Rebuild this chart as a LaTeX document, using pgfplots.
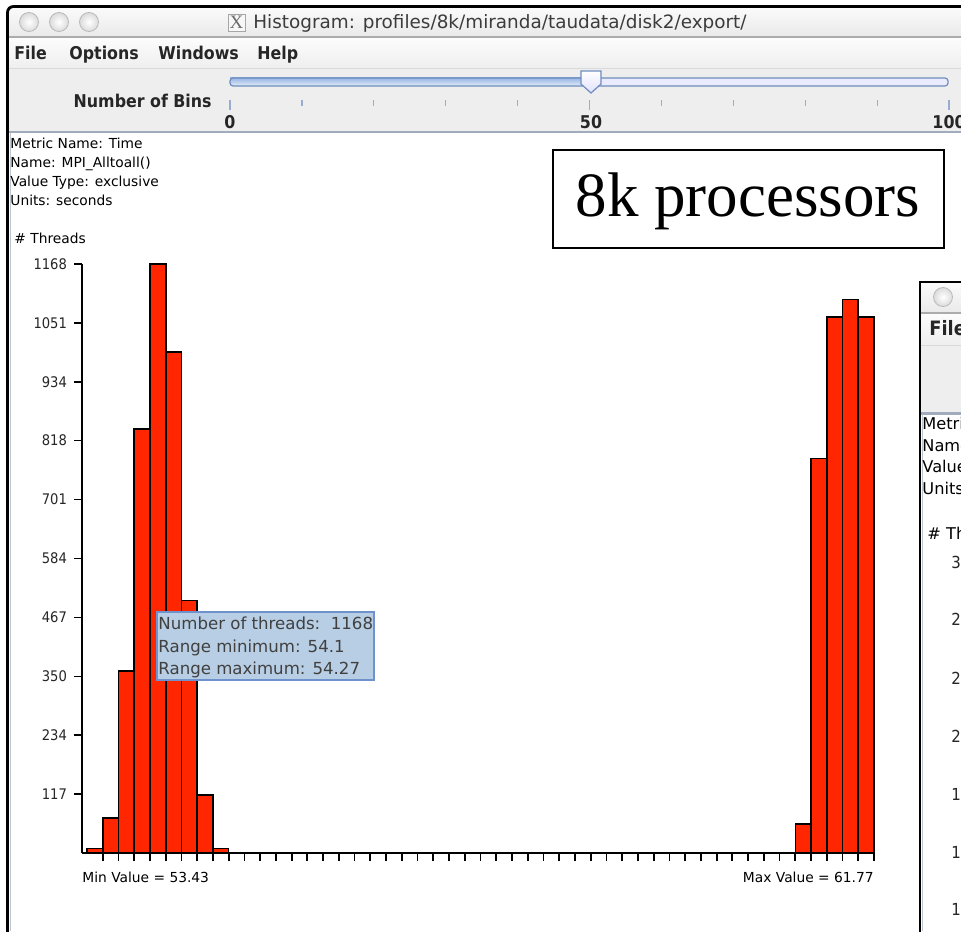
\documentclass[border=0pt]{standalone}
\usepackage{pgfplots}
\pgfplotsset{compat=1.18}
\usepackage{fontspec}
\setmainfont{DejaVu Sans}
\newfontfamily\condf{DejaVu Sans Condensed}
\newfontfamily\serif{Liberation Serif}
\definecolor{barred}{RGB}{255,38,0}
\definecolor{tipfill}{RGB}{184,206,228}
\definecolor{tipdraw}{RGB}{112,146,204}
\definecolor{panel}{RGB}{238,238,238}
\definecolor{sepblue}{RGB}{160,172,188}
\definecolor{ticklite}{RGB}{150,172,208}
\definecolor{trackline}{RGB}{110,140,190}
\definecolor{trackblue}{RGB}{150,182,228}
\definecolor{titletext}{RGB}{60,60,60}
\begin{document}
\begin{tikzpicture}
\useasboundingbox (0pt,0pt) rectangle (480.5pt,-465.5pt);
\clip (0pt,0pt) rectangle (480.5pt,-465.5pt);
\begin{scope}[x=0.5pt,y=-0.5pt]
\fill[white] (0,0) rectangle (961,931);
% ---- main window chrome
\shade[top color=gray!3, bottom color=gray!17] (7,6) rectangle (961,37);
\shade[top color=gray!2, bottom color=gray!13] (7,37) rectangle (961,68);
\fill[panel] (7,68) rectangle (961,131);
\draw[gray!65, line width=0.6pt] (7,37) -- (961,37);
\draw[gray!30, line width=0.5pt] (7,68.5) -- (961,68.5);
\draw[sepblue, line width=1.2pt] (7,132) -- (961,132);
\draw[sepblue!70, line width=0.6pt] (10.5,133) -- (10.5,931);
\draw[black, line width=1.4pt, rounded corners=3pt] (7.5,935) -- (7.5,6.5) -- (965,6.5);
% traffic lights
\foreach \cx in {29,59,89} {
  \shade[inner color=white, outer color=gray!28] (\cx,22) circle (9.5);
  \draw[gray!55, line width=0.4pt] (\cx,22) circle (9.5);
}
% X icon and title
\draw[gray!70, fill=gray!6, line width=0.4pt] (228,14) rectangle (245,31);
\node[font=\serif\fontsize{9.5}{10}\selectfont, text=gray!85!black, inner sep=0] at (236.5,22.5) {X};
\node[anchor=base west, inner sep=0, font=\fontsize{9.2}{10}\selectfont, text=titletext] at (253,28.5) {Histogram: profiles/8k/miranda/taudata/disk2/export/};
% menu
\begin{scope}[every node/.style={anchor=base west, inner sep=0, font=\condf\bfseries\fontsize{8.8}{10}\selectfont, text=black!85}]
\node at (14,59.3) {File};
\node at (69,59.3) {Options};
\node at (158,59.3) {Windows};
\node at (257,59.3) {Help};
\end{scope}
% slider
\node[anchor=base east, inner sep=0, font=\condf\bfseries\fontsize{8.8}{10}\selectfont, text=black!85] at (212,107) {Number of Bins};
\fill[white!92!blue] (230,78) rectangle (948,86);
\shade[top color=trackblue, bottom color=white!75!trackblue] (230,78) rectangle (591,86);
\draw[trackline, line width=0.6pt, rounded corners=1.5] (230,78) rectangle (948,86);
\shadedraw[top color=white, bottom color=blue!12, draw=trackline, line width=0.6pt] (581,71) -- (601,71) -- (601,84) -- (591,93) -- (581,84) -- cycle;
\foreach \i in {1,2,3,4,6,7,8,9} \draw[ticklite, line width=0.6pt] ({230+\i*71.9},100) -- ({230+\i*71.9},106);
\foreach \i in {0,5,10} \draw[ticklite, line width=0.6pt] ({230+\i*71.9},100) -- ({230+\i*71.9},109.5);
\begin{scope}[every node/.style={anchor=base, inner sep=0, font=\condf\bfseries\fontsize{8.8}{10}\selectfont, text=black!85}]
\node at (230,128) {0};
\node at (591,128) {50};
\node at (949,128) {100};
\end{scope}
% info text
\begin{scope}[every node/.style={anchor=base west, inner sep=0, font=\fontsize{6.9}{8}\selectfont}]
\node at (10,148) {Metric Name: Time};
\node at (10,167) {Name: MPI\_Alltoall()};
\node at (10,186) {Value Type: exclusive};
\node at (10,205) {Units: seconds};
\node at (14,243) {\# Threads};
\end{scope}
\end{scope}
% ---- histogram
\begin{axis}[
  at={(41pt,-426.5pt)}, anchor=south west, scale only axis,
  width=396pt, height=294.5pt,
  xmin=-0.318, xmax=50, ymin=0, ymax=1168,
  axis lines=left, axis line style={-, line width=1pt},
  xtick={1,...,50}, xticklabels={},
  ytick={117,234,350,467,584,701,818,934,1051,1168},
  tick align=outside, major tick length=4pt,
  tick style={black, line width=0.9pt},
  /pgf/number format/1000 sep={},
  /pgf/number format/assume math mode=true,
  yticklabel style={font=\condf\fontsize{7.3}{8}\selectfont, text=black!85},
  clip=false,
]
\addplot[ybar interval, fill=barred, draw=black, line width=0.8pt] coordinates {
  (0,9) (1,69) (2,361) (3,841) (4,1168) (5,993) (6,501) (7,115) (8,9) (9,9)};
\addplot[ybar interval, fill=barred, draw=black, line width=0.8pt] coordinates {
  (45,57) (46,782) (47,1063) (48,1098) (49,1063) (50,1063)};
\node[anchor=base west, inner sep=0, font=\fontsize{6.9}{8}\selectfont, yshift=-14.8pt] at (rel axis cs:0,0) {Min Value = 53.43};
\node[anchor=base east, inner sep=0, font=\fontsize{6.9}{8}\selectfont, yshift=-14.8pt] at (rel axis cs:1,0) {Max Value = 61.77};
\end{axis}
\begin{scope}[x=0.5pt,y=-0.5pt]
% tooltip
\draw[tipdraw, fill=tipfill, line width=0.6pt] (157,612) rectangle (374,680);
\begin{scope}[every node/.style={anchor=base west, inner sep=0, font=\fontsize{8.3}{9}\selectfont, text=black!75}]
\node at (158,629.5) {Number of threads:\ \ 1168};
\node at (158,652) {Range minimum: 54.1};
\node at (158,674) {Range maximum: 54.27};
\end{scope}
% 8k processors box
\draw[black, line width=0.8pt, fill=white] (553,150) rectangle (944,248);
\node[anchor=base, inner sep=0, font=\serif\fontsize{31.5}{32}\selectfont] at (748,216) {8k processors};
% ---- second window (partially visible)
\begin{scope}
\clip (919,281) rectangle (961,931);
\shade[top color=gray!3, bottom color=gray!17] (919,282) rectangle (961,313);
\shade[top color=gray!2, bottom color=gray!13] (919,313) rectangle (961,345);
\fill[panel] (919,345) rectangle (961,413);
\fill[white] (919,413) rectangle (961,931);
\draw[gray!65, line width=0.6pt] (919,313) -- (961,313);
\draw[gray!30, line width=0.5pt] (919,345) -- (961,345);
\draw[sepblue, line width=1.2pt] (919,413.5) -- (961,413.5);
\draw[sepblue!70, line width=0.6pt] (922.5,414) -- (922.5,931);
\shade[inner color=white, outer color=gray!28] (943,297) circle (9.5);
\draw[gray!55, line width=0.4pt] (943,297) circle (9.5);
\node[anchor=base west, inner sep=0, font=\condf\bfseries\fontsize{9.9}{11}\selectfont, text=black!85] at (929,335) {File};
\begin{scope}[every node/.style={anchor=base west, inner sep=0, font=\fontsize{8.1}{9}\selectfont}]
\node at (922,429.5) {Metric Name: Time};
\node at (922,451) {Name: MPI\_Alltoall()};
\node at (922,472.5) {Value Type: exclusive};
\node at (922,494) {Units: seconds};
\node at (927,539) {\# Threads};
\end{scope}
\begin{scope}[every node/.style={anchor=base west, inner sep=0, font=\condf\fontsize{8.3}{9}\selectfont, text=black!85}]
\node at (951,568.5) {3};
\node at (951,625.5) {2};
\node at (951,684.5) {2};
\node at (951,742.5) {2};
\node at (951,800.5) {1};
\node at (951,858.5) {1};
\node at (951,915.5) {1};
\end{scope}
\draw[black, line width=1.4pt] (919.5,935) -- (919.5,282) -- (965,282);
\end{scope}
\end{scope}
\end{tikzpicture}
\end{document}
